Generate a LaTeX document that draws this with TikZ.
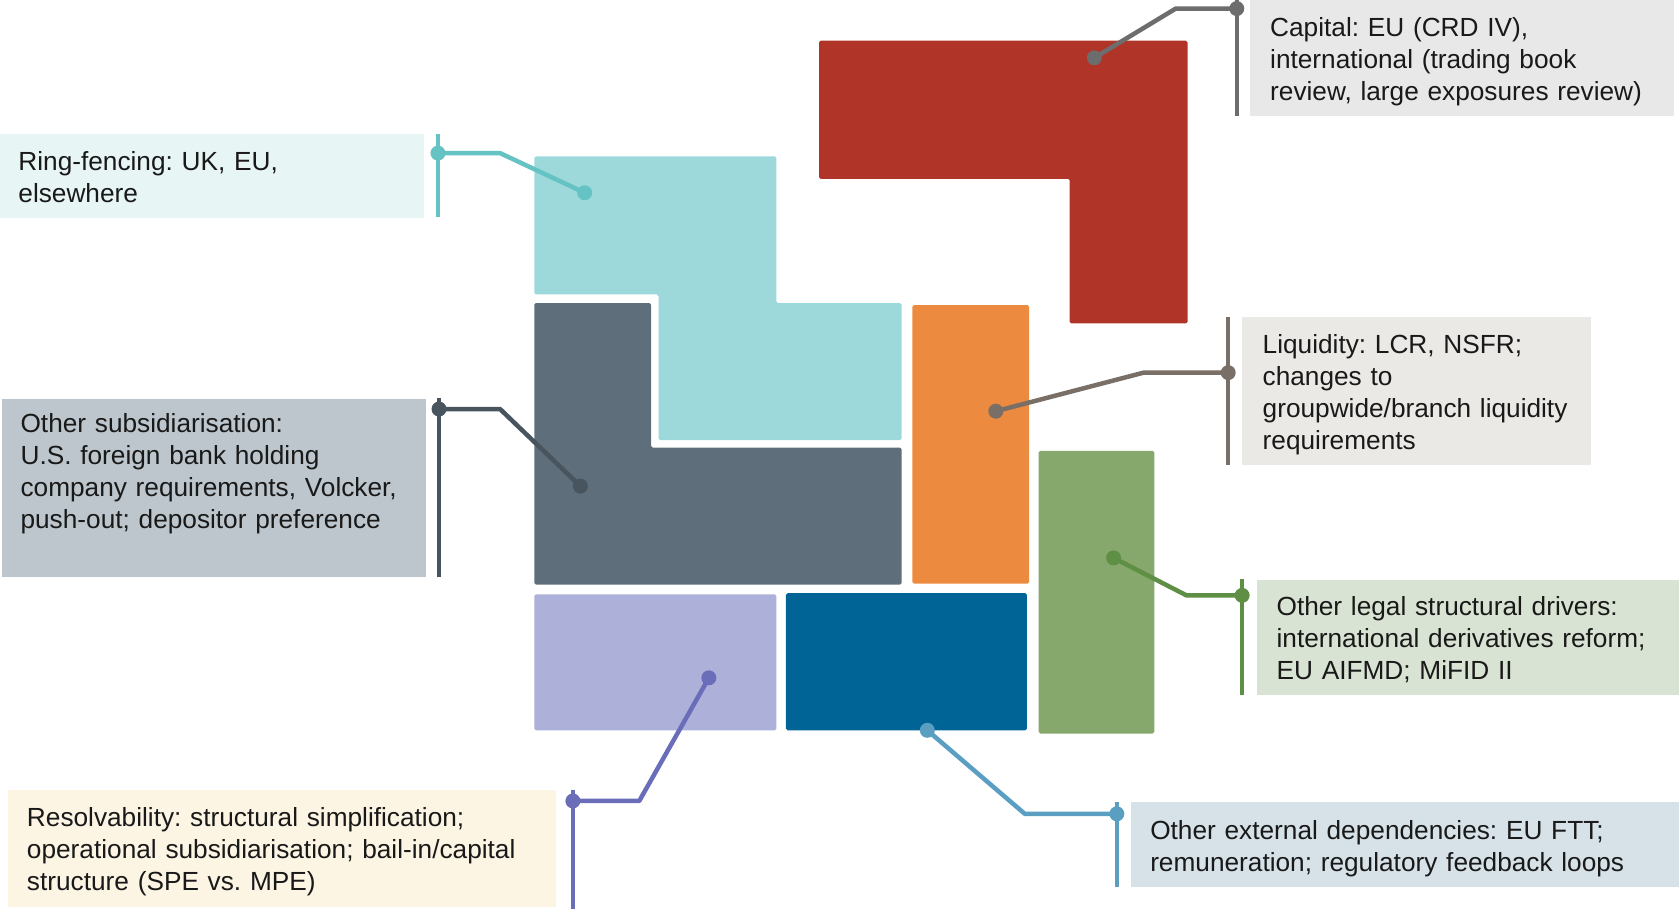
\documentclass[tikz,border=0pt]{standalone}
\usepackage{fontspec}
\setmainfont{Liberation Sans}
\frenchspacing
\begin{document}
\begin{tikzpicture}[x=1pt,y=-1pt,
  block/.style={draw=none,rounded corners=1.5pt},
  lbox/.style={draw=none,inner sep=0pt,anchor=north west},
  ltext/.style={anchor=base west,inner sep=0pt,text width=700pt,align=left,
    font=\fontsize{24.5}{30}\selectfont,text=black!90},
  dot/.style={circle,fill=#1,inner sep=0pt,minimum size=14pt},
  link/.style={draw=#1,line width=4.2pt,line join=round},
  bar/.style={draw=#1,line width=4.2pt}]
\definecolor{cRed}{HTML}{B03427}
\definecolor{cTeal}{HTML}{9DD8DB}
\definecolor{cTealL}{HTML}{66C3C4}
\definecolor{cTealBox}{HTML}{E8F5F5}
\definecolor{cSlate}{HTML}{5E6E7A}
\definecolor{cSlateL}{HTML}{48555F}
\definecolor{cSlateBox}{HTML}{BCC6CC}
\definecolor{cOrange}{HTML}{EC8A40}
\definecolor{cBrownL}{HTML}{7A6F66}
\definecolor{cBrownBox}{HTML}{EAE9E5}
\definecolor{cGreen}{HTML}{86A86C}
\definecolor{cGreenL}{HTML}{5E8F45}
\definecolor{cGreenBox}{HTML}{D9E3D3}
\definecolor{cLav}{HTML}{ADB0D9}
\definecolor{cLavL}{HTML}{6A6DB8}
\definecolor{cLavBox}{HTML}{FDF5E4}
\definecolor{cBlue}{HTML}{006496}
\definecolor{cBlueL}{HTML}{5A9EC2}
\definecolor{cBlueBox}{HTML}{D6E1E8}
\definecolor{cGreyL}{HTML}{6D6D6D}
\definecolor{cGreyBox}{HTML}{E8E8E8}

\useasboundingbox (0,0) rectangle (1568,849);

% puzzle blocks
\fill[block,cRed] (765,38) -- (1109,38) -- (1109,302) -- (999,302) -- (999,167) -- (765,167) -- cycle;
\fill[block,cTeal] (499,146) -- (725,146) -- (725,283) -- (842,283) -- (842,411) -- (615,411) -- (615,275) -- (499,275) -- cycle;
\fill[block,cSlate] (499,283) -- (608,283) -- (608,418) -- (842,418) -- (842,546) -- (499,546) -- cycle;
\fill[block,cOrange] (852,285) rectangle (961,545);
\fill[block,cGreen] (970,421) rectangle (1078,685);
\fill[block,cLav] (499,555) rectangle (725,682);
\fill[block,cBlue] (734,554) rectangle (959,682);

% label boxes
\node[lbox,fill=cGreyBox,minimum width=396pt,minimum height=108pt] (capbox) at (1167,0) {};
\node[lbox,fill=cTealBox,minimum width=396pt,minimum height=78pt] (ringbox) at (0,125) {};
\node[lbox,fill=cSlateBox,minimum width=396pt,minimum height=167pt] (subbox) at (2,372) {};
\node[lbox,fill=cBrownBox,minimum width=326pt,minimum height=138pt] (liqbox) at (1160,296) {};
\node[lbox,fill=cGreenBox,minimum width=394pt,minimum height=108pt] (legbox) at (1174,541) {};
\node[lbox,fill=cLavBox,minimum width=512pt,minimum height=109pt] (resbox) at (7,738) {};
\node[lbox,fill=cBlueBox,minimum width=512pt,minimum height=79pt] (extbox) at (1056,749) {};

% label texts
\node[ltext] (captext) at (1186,34) {Capital: EU (CRD IV),\\international (trading book\\review, large exposures review)};
\node[ltext] (ringtext) at (17,159) {Ring-fencing: UK, EU,\\elsewhere};
\node[ltext] (subtext) at (19,404) {Other subsidiarisation:\\U.S. foreign bank holding\\company requirements, Volcker,\\push-out; depositor preference};
\node[ltext] (liqtext) at (1179,330) {Liquidity: LCR, NSFR;\\changes to\\groupwide/branch liquidity\\requirements};
\node[ltext] (legtext) at (1192,575) {Other legal structural drivers:\\international derivatives reform;\\EU AIFMD; MiFID II};
\node[ltext] (restext) at (25,772) {Resolvability: structural simplification;\\operational subsidiarisation; bail-in/capital\\structure (SPE vs. MPE)};
\node[ltext] (exttext) at (1074,784) {Other external dependencies: EU FTT;\\remuneration; regulatory feedback loops};

% bars beside the label boxes
\coordinate (capbarT) at (1155,0);   \coordinate (capbarB) at (1155,108);
\coordinate (ringbarT) at (409,125); \coordinate (ringbarB) at (409,203);
\coordinate (subbarT) at (410,372);  \coordinate (subbarB) at (410,539);
\coordinate (liqbarT) at (1147,296); \coordinate (liqbarB) at (1147,434);
\coordinate (legbarT) at (1160,541); \coordinate (legbarB) at (1160,649);
\coordinate (resbarT) at (535,738);  \coordinate (resbarB) at (535,849);
\coordinate (extbarT) at (1043,749); \coordinate (extbarB) at (1043,828);
\draw[bar=cGreyL] (capbarT) -- (capbarB);
\draw[bar=cTealL] (ringbarT) -- (ringbarB);
\draw[bar=cSlateL] (subbarT) -- (subbarB);
\draw[bar=cBrownL] (liqbarT) -- (liqbarB);
\draw[bar=cGreenL] (legbarT) -- (legbarB);
\draw[bar=cLavL] (resbarT) -- (resbarB);
\draw[bar=cBlueL] (extbarT) -- (extbarB);

% connector dots
\node[dot=cGreyL] (capA) at (1022,54) {};
\node[dot=cGreyL] (capB) at (1155,8) {};
\node[dot=cTealL] (ringA) at (546,180) {};
\node[dot=cTealL] (ringB) at (409,143) {};
\node[dot=cSlateL] (subA) at (542,454) {};
\node[dot=cSlateL] (subB) at (410,382) {};
\node[dot=cBrownL] (liqA) at (930,384) {};
\node[dot=cBrownL] (liqB) at (1147,348) {};
\node[dot=cGreenL] (legA) at (1040,521) {};
\node[dot=cGreenL] (legB) at (1160,556) {};
\node[dot=cLavL] (resA) at (662,633) {};
\node[dot=cLavL] (resB) at (535,748) {};
\node[dot=cBlueL] (extA) at (866,682) {};
\node[dot=cBlueL] (extB) at (1043,760) {};

% bend points
\coordinate (capK) at (1098,8);
\coordinate (ringK) at (467,143);
\coordinate (subK) at (467,382);
\coordinate (liqK) at (1068,348);
\coordinate (legK) at (1108,556);
\coordinate (resK) at (597,748);
\coordinate (extK) at (957,760);

% connectors
\draw[link=cGreyL] (capA.center) -- (capK) -- (capB.center);
\draw[link=cTealL] (ringA.center) -- (ringK) -- (ringB.center);
\draw[link=cSlateL] (subA.center) -- (subK) -- (subB.center);
\draw[link=cBrownL] (liqA.center) -- (liqK) -- (liqB.center);
\draw[link=cGreenL] (legA.center) -- (legK) -- (legB.center);
\draw[link=cLavL] (resA.center) -- (resK) -- (resB.center);
\draw[link=cBlueL] (extA.center) -- (extK) -- (extB.center);
\end{tikzpicture}
\end{document}
